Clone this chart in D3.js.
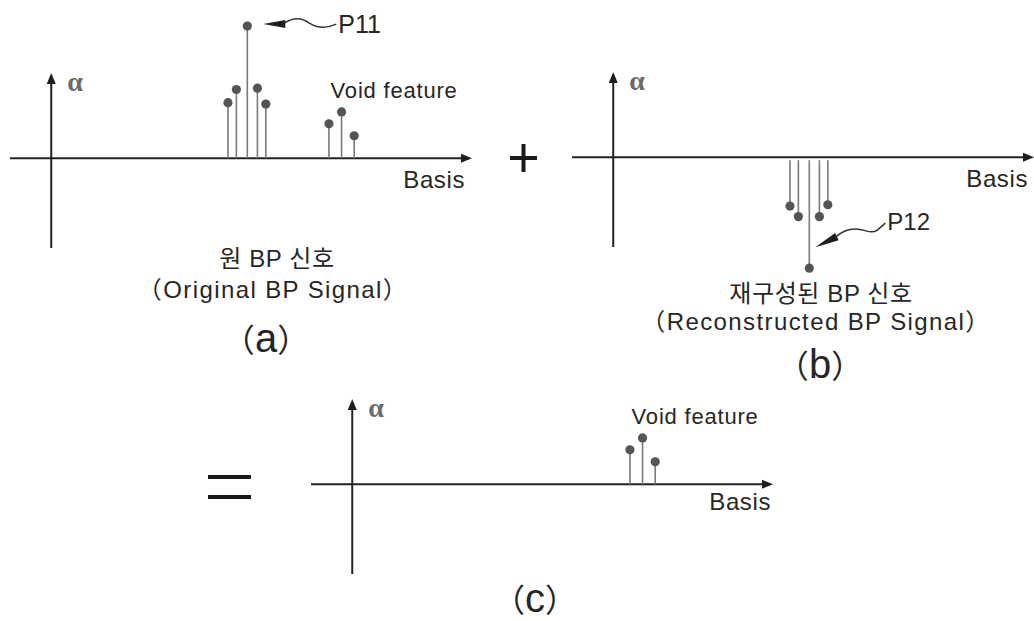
<!DOCTYPE html>
<html>
  <head>
    <meta charset="utf-8">
    <title>BP signal decomposition</title>
    <script src="https://d3js.org/d3.v7.min.js"></script>
    <style>
      body { margin: 0; background: #fff; }
      text { font-family: "Liberation Sans", "Noto Sans CJK KR", sans-serif; fill: #262626; }
      .kr { font-family: "Liberation Sans", "Noto Sans CJK KR", sans-serif; }
      .tag { font-family: "Liberation Sans Narrow", "Liberation Sans", sans-serif; }
      .paren { font-family: "Noto Sans CJK KR", sans-serif; }
      .alpha { font-family: "Liberation Serif", serif; font-weight: bold; fill: #6a6a6a; }
    </style>
  </head>
  <body>
    <svg width="1034" height="621"></svg>
    <script>
      // basis positions of the stems (axis units, 0 = origin)
      const basisMain = [42, 44, 46.6, 49, 51];
      const basisVoid = [66, 69, 72];

      // coefficient values (alpha), normalised to the P11 peak
      const alphaOriginal = [0.42, 0.52, 1.0, 0.53, 0.41];
      const alphaVoid = [0.26, 0.35, 0.17];
      const alphaReconstructed = [-0.37, -0.45, -0.84, -0.45, -0.36];

      const captionA = ["원 BP 신호", "（Original BP Signal）"];
      const captionB = ["재구성된 BP 신호", "（Reconstructed BP Signal）"];
      const panelTags = ["a", "b", "c"];

      const svg = d3.select("svg");

      const zip = (xs, ys) => xs.map((x, i) => ({basis: x, alpha: ys[i]}));

      const panels = [
        {origin: [51, 158], basisLabel: [465, 188], voidLabel: true,
         stems: zip(basisMain, alphaOriginal).concat(zip(basisVoid, alphaVoid))},
        {origin: [613, 157], basisLabel: [1028, 187], voidLabel: false,
         stems: zip(basisMain, alphaReconstructed)},
        {origin: [352, 484], basisLabel: [771, 510], voidLabel: true,
         stems: zip(basisVoid, alphaVoid)}
      ];

      function arrowHead(g, tip, angle, len, half){
        g.append("path")
          .attr("d", `M0,0 L${-len},${-half} L${-len},${half} Z`)
          .attr("transform", `translate(${tip[0]},${tip[1]}) rotate(${angle})`)
          .attr("fill", "#1e1e1e");
      }

      function drawPanel(p){
        const [ox, oy] = p.origin;
        const x = d3.scaleLinear().domain([-9.8, 100]).range([ox - 41, ox + 421]);
        const y = d3.scaleLinear().domain([-0.68, 0.645]).range([oy + 90, oy - 85]);
        const g = svg.append("g");

        // axes
        g.append("line")
          .attr("x1", x(-9.8)).attr("x2", x(100) - 6)
          .attr("y1", y(0)).attr("y2", y(0))
          .attr("stroke", "#222").attr("stroke-width", 2);
        arrowHead(g, [x(100), y(0)], 0, 11, 4.5);
        g.append("line")
          .attr("x1", x(0)).attr("x2", x(0))
          .attr("y1", y(-0.68)).attr("y2", y(0.645) + 6)
          .attr("stroke", "#222").attr("stroke-width", 2);
        arrowHead(g, [x(0), y(0.645)], -90, 11, 4.5);

        g.append("text").attr("class", "alpha")
          .attr("x", x(0) + 16).attr("y", oy - 67)
          .attr("font-size", 28).text("α");

        g.append("text")
          .attr("x", p.basisLabel[0]).attr("y", p.basisLabel[1])
          .attr("text-anchor", "end").attr("font-size", 24)
          .attr("letter-spacing", 0.6).text("Basis");

        if (p.voidLabel){
          g.append("text")
            .attr("x", x(66.4)).attr("y", oy - 60)
            .attr("font-size", 22).attr("letter-spacing", 0.8)
            .text("Void feature");
        }

        // stems
        g.selectAll(".stem").data(p.stems).enter().append("line")
          .attr("class", "stem")
          .attr("x1", d => x(d.basis)).attr("x2", d => x(d.basis))
          .attr("y1", d => d.alpha < 0 ? y(0) + 3 : y(0))
          .attr("y2", d => y(d.alpha))
          .attr("stroke", "#7a7a7a").attr("stroke-width", 1.6);
        g.selectAll(".dot").data(p.stems).enter().append("circle")
          .attr("class", "dot")
          .attr("cx", d => x(d.basis)).attr("cy", d => y(d.alpha))
          .attr("r", 4.6).attr("fill", "#555");

        return {x, y};
      }

      const [sa, sb] = panels.map(drawPanel);

      // P11 annotation, anchored to the largest original coefficient
      const i11 = alphaOriginal.indexOf(d3.max(alphaOriginal));
      const p11 = [sa.x(basisMain[i11]), sa.y(alphaOriginal[i11])];
      const ann = svg.append("g");
      arrowHead(ann, [p11[0] + 16, p11[1] - 2], 180, 22, 4);
      ann.append("path")
        .attr("d", `M${p11[0] + 37},${p11[1] - 3}
                    C${p11[0] + 46},${p11[1] - 9} ${p11[0] + 54},${p11[1] - 9} ${p11[0] + 62},${p11[1] - 3}
                    C${p11[0] + 70},${p11[1] + 2} ${p11[0] + 80},${p11[1] + 2} ${p11[0] + 89},${p11[1] - 2}`)
        .attr("fill", "none").attr("stroke", "#333").attr("stroke-width", 1.5);
      ann.append("text")
        .attr("x", p11[0] + 91).attr("y", p11[1] + 7)
        .attr("font-size", 25).attr("fill", "#222").text("P11");

      // P12 annotation, anchored to the deepest reconstructed coefficient
      const i12 = alphaReconstructed.indexOf(d3.min(alphaReconstructed));
      const p12 = [sb.x(basisMain[i12]), sb.y(alphaReconstructed[i12])];
      arrowHead(ann, [p12[0] + 6, p12[1] - 21], 154, 24, 4);
      ann.append("path")
        .attr("d", `M${p12[0] + 26},${p12[1] - 31}
                    C${p12[0] + 33},${p12[1] - 37} ${p12[0] + 41},${p12[1] - 40} ${p12[0] + 49},${p12[1] - 39}
                    C${p12[0] + 57},${p12[1] - 38} ${p12[0] + 62},${p12[1] - 34} ${p12[0] + 68},${p12[1] - 38}
                    L${p12[0] + 76},${p12[1] - 45}`)
        .attr("fill", "none").attr("stroke", "#333").attr("stroke-width", 1.5);
      ann.append("text")
        .attr("x", p12[0] + 78).attr("y", p12[1] - 38)
        .attr("font-size", 24).attr("fill", "#222").text("P12");

      // operators
      const ops = svg.append("g").attr("stroke", "#1a1a1a").attr("stroke-width", 4);
      ops.append("line").attr("x1", 510).attr("x2", 537).attr("y1", 158).attr("y2", 158);
      ops.append("line").attr("x1", 523.5).attr("x2", 523.5).attr("y1", 144).attr("y2", 172);
      ops.append("line").attr("x1", 208).attr("x2", 251).attr("y1", 477).attr("y2", 477);
      ops.append("line").attr("x1", 208).attr("x2", 251).attr("y1", 497).attr("y2", 497);

      // captions
      function caption(lines, cx, baselines){
        lines.forEach((t, i) => {
          svg.append("text").attr("class", "kr")
            .attr("x", cx[i]).attr("y", baselines[i])
            .attr("text-anchor", "middle")
            .attr("font-size", 24)
            .attr("letter-spacing", i === 0 ? 0.6 : 1.4)
            .text(t);
        });
      }
      caption(captionA, [277, 273], [267, 298]);
      caption(captionB, [821, 816], [302, 330]);

      // panel tags (a) (b) (c)
      const tagPos = [[266, 352], [820, 378], [535, 612]];
      panelTags.forEach((t, i) => {
        const txt = svg.append("text")
          .attr("x", tagPos[i][0]).attr("y", tagPos[i][1])
          .attr("text-anchor", "middle");
        txt.append("tspan").attr("class", "paren").attr("font-size", 32).text("（");
        txt.append("tspan").attr("class", "tag").attr("font-size", 40).text(t);
        txt.append("tspan").attr("class", "paren").attr("font-size", 32).text("）");
      });
    </script>
  </body>
</html>
